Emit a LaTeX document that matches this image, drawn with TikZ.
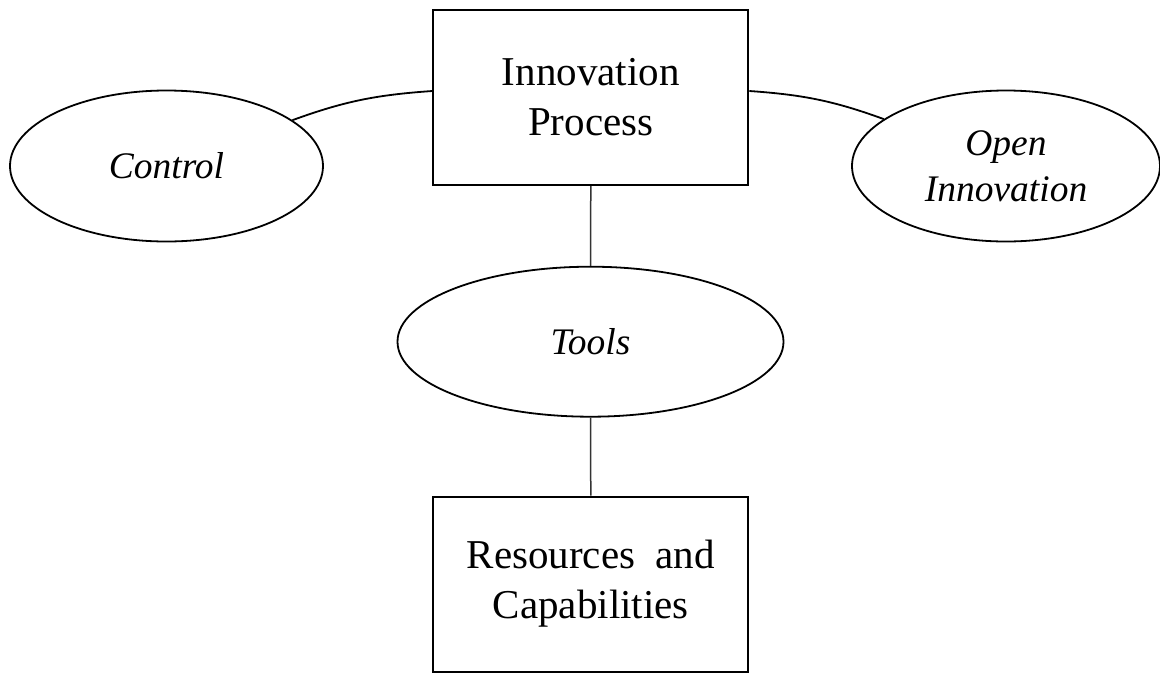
\documentclass[tikz,border=0pt]{standalone}
\usepackage{fontspec}
\setmainfont{Liberation Serif}
\usetikzlibrary{shapes.geometric}
\begin{document}
\begin{tikzpicture}[x=1pt,y=-1pt,
  boxnode/.style={draw, line width=2pt, minimum width=315pt, minimum height=175pt, inner sep=0pt, align=center, font=\fontsize{41}{50}\selectfont},
  ellnode/.style={draw, ellipse, line width=1.8pt, inner sep=0pt, align=center, font=\fontsize{37.5}{46}\selectfont\itshape},
  link/.style={line width=1.5pt, draw=black!80}]
\useasboundingbox (0,0) rectangle (1160,673);
\node[boxnode] (ip) at (590.8,97.5) {Innovation\\Process};
\node[boxnode] (rc) at (590.8,584) {Resources~~and\\Capabilities};
\node[ellnode, minimum width=313pt, minimum height=151pt] (ctl) at (166.5,166) {Control};
\node[ellnode, minimum width=308pt, minimum height=151pt] (oi) at (1006,166) {Open\\Innovation};
\node[ellnode, minimum width=386pt, minimum height=150pt] (tl) at (590.5,341.7) {Tools};
\draw[link] (ip.south) -- (tl.north);
\draw[link] (tl.south) -- (rc.north);
\draw[line width=1.8pt] (ctl.20) to[out=20, in=184] (ip.west |- 0,91);
\draw[line width=1.8pt] (ip.east |- 0,91) to[out=-4, in=160] (oi.159);
\end{tikzpicture}
\end{document}
